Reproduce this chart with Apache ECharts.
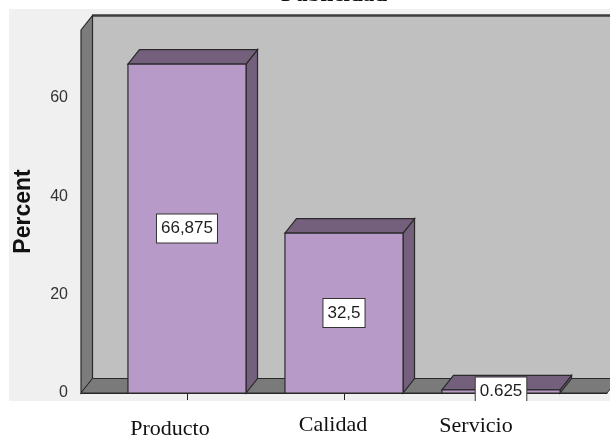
<!DOCTYPE html>
<html>
<head>
<meta charset="utf-8">
<script src="https://cdn.jsdelivr.net/npm/echarts@6/dist/echarts.min.js"></script>
<style>
  html, body { margin: 0; padding: 0; background: #ffffff; }
  #chart { width: 610px; height: 439px; }
</style>
</head>
<body>
<div id="chart"></div>
<script>
// ---- data ----
const categories = ['Producto', 'Calidad', 'Servicio'];
const percentValues = [66.875, 32.5, 0.625];
const valueLabels = ['66,875', '32,5', '0.625'];
const yTickValues = [0, 20, 40, 60];
const chartTitle = 'Publicidad';
const yAxisTitle = 'Percent';

// ---- 3D box look ----
const DEPTH_X = 11.5;     // px offset of the back plane
const DEPTH_Y = -14.5;
const BAR_HALF = 0.376;   // half bar width, in category units
const X_MIN = -0.675, X_MAX = 2.675, Y_MAX = 73.8;
const EDGE = '#2a2a2a';
const catLabelShift = [[-17, 36], [-11, 32], [-25, 33]];

const chart = echarts.init(document.getElementById('chart'), null, { renderer: 'canvas' });

function shift(p) { return [p[0] + DEPTH_X, p[1] + DEPTH_Y]; }

// back wall, left wall and floor of the box
function renderWalls(params, api) {
  const p0 = api.coord([X_MIN, 0]);
  const p1 = api.coord([X_MAX, 0]);
  const pt = api.coord([X_MIN, Y_MAX]);
  const b0 = shift(p0), b1 = shift(p1), bt = shift(pt);
  return {
    type: 'group',
    children: [
      { type: 'rect', shape: { x: bt[0], y: bt[1], width: b1[0] - bt[0] + 20, height: b0[1] - bt[1] },
        style: { fill: '#c0c0c0', stroke: EDGE, lineWidth: 1 } },
      { type: 'line', shape: { x1: bt[0], y1: bt[1], x2: b1[0] + 20, y2: bt[1] },
        style: { stroke: '#3c3c3c', lineWidth: 2.5 } },
      { type: 'polygon', shape: { points: [pt, bt, b0, p0] },
        style: { fill: '#7c7c7c', stroke: EDGE, lineWidth: 1.2 } },
      { type: 'polygon', shape: { points: [p0, b0, b1, p1] },
        style: { fill: '#7a7a7a', stroke: EDGE, lineWidth: 1 } }
    ]
  };
}

// one 3D bar: front face, top face, right side face and value box
function renderBar(params, api) {
  const i = api.value(0);
  const v = api.value(1);
  const tl = api.coord([i - BAR_HALF, v]);
  const br = api.coord([i + BAR_HALF, 0]);
  const tr = [br[0], tl[1]];
  const bl = [tl[0], br[1]];
  const tlB = shift(tl), trB = shift(tr), brB = shift(br);
  return {
    type: 'group',
    children: [
      { type: 'polygon', shape: { points: [tr, trB, brB, br] },
        style: { fill: '#74607d', stroke: EDGE, lineWidth: 1.2 } },
      { type: 'polygon', shape: { points: [tl, tlB, trB, tr] },
        style: { fill: '#74607d', stroke: EDGE, lineWidth: 1.2 } },
      { type: 'rect', shape: { x: tl[0], y: tl[1], width: br[0] - tl[0], height: br[1] - tl[1] },
        style: { fill: '#b89ac8', stroke: EDGE, lineWidth: 1.2 } },
      { type: 'text', z2: 10,
        style: {
          x: (tl[0] + br[0]) / 2, y: (tl[1] + bl[1]) / 2,
          text: valueLabels[params.dataIndex],
          align: 'center', verticalAlign: 'middle',
          fontFamily: 'Liberation Sans, Arial, sans-serif', fontSize: 17, fill: '#1e1e1e',
          backgroundColor: '#ffffff', borderColor: '#333333', borderWidth: 1,
          padding: [6, 4, 5, 4]
        } }
    ]
  };
}

// category names under the axis
function renderCatLabel(params, api) {
  const i = api.value(0);
  const p = api.coord([i, 0]);
  const s = catLabelShift[params.dataIndex];
  return {
    type: 'text',
    style: {
      x: p[0] + s[0], y: p[1] + s[1],
      text: categories[params.dataIndex],
      align: 'center', verticalAlign: 'middle',
      fontFamily: 'Liberation Serif, Times New Roman, serif', fontSize: 22, fill: '#111111'
    }
  };
}

const barData = percentValues.map((v, i) => [i, v]);

chart.setOption({
  backgroundColor: '#ffffff',
  animation: false,
  graphic: [
    { type: 'rect', z: -10, shape: { x: 9, y: 9, width: 601, height: 392 }, style: { fill: '#f0f0f0' } },
    { type: 'rect', z: 50, shape: { x: 0, y: 401, width: 610, height: 38 }, style: { fill: '#ffffff' } },
    { type: 'text', z: 60, style: {
        x: 334, y: -5, text: chartTitle, align: 'center', verticalAlign: 'middle',
        fontFamily: 'Liberation Serif, Times New Roman, serif', fontWeight: 'bold', fontSize: 23, fill: '#111111'
      } }
  ],
  grid: { left: 81, top: 30, width: 526, height: 363 },
  xAxis: {
    type: 'value', min: X_MIN, max: X_MAX,
    splitLine: { show: false },
    axisLine: { show: true, lineStyle: { color: '#222222', width: 1 } },
    axisTick: { show: true, customValues: [0, 1, 2], length: 7, lineStyle: { color: '#222222' } },
    axisLabel: { show: false }
  },
  yAxis: {
    type: 'value', min: 0, max: Y_MAX,
    name: yAxisTitle, nameLocation: 'middle', nameRotate: 90, nameGap: 46,
    nameTextStyle: { fontFamily: 'Liberation Sans, Arial, sans-serif', fontWeight: 'bold', fontSize: 23, color: '#111111' },
    splitLine: { show: false },
    axisLine: { show: true, lineStyle: { color: '#222222', width: 1.2 } },
    axisTick: { show: true, customValues: yTickValues, length: 8, lineStyle: { color: '#222222' } },
    axisLabel: { customValues: yTickValues, margin: 13, fontSize: 16, color: '#333333',
      fontFamily: 'Liberation Sans, Arial, sans-serif' }
  },
  series: [
    { type: 'custom', name: 'walls', z: 1, data: [[0, 0]], renderItem: renderWalls, silent: true },
    { type: 'custom', name: 'Percent', z: 3, data: barData, renderItem: renderBar,
      encode: { x: 0, y: 1 } },
    { type: 'custom', name: 'categories', z: 60, data: categories.map((c, i) => [i, 0]),
      renderItem: renderCatLabel, silent: true }
  ]
});
</script>
</body>
</html>
